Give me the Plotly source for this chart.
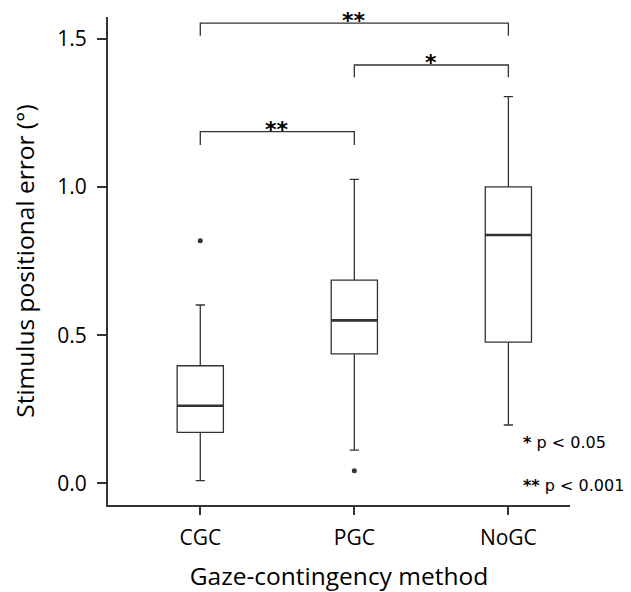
import plotly.graph_objects as go

categories = ["CGC", "PGC", "NoGC"]
q1 = [0.172, 0.437, 0.477]
median = [0.262, 0.550, 0.838]
q3 = [0.397, 0.686, 1.001]
lower = [0.009, 0.112, 0.197]
upper = [0.602, 1.026, 1.305]
outlier_x = [0, 1]
outlier_y = [0.819, 0.043]

# significance brackets: (from idx, to idx, bar level, end level, label)
br_from = [0, 1, 0]
br_to = [1, 2, 2]
br_top = [1.187, 1.412, 1.553]
br_end = [1.142, 1.371, 1.511]
br_label = ["**", "*", "**"]

legend_lines = ["<b>*</b> p < 0.05", "<b>**</b> p < 0.001"]
legend_y = [0.139, -0.006]

C = "#333333"
fig = go.Figure()
for i, c in enumerate(categories):
    fig.add_trace(go.Box(
        x=[i], q1=[q1[i]], median=[median[i]], q3=[q3[i]],
        lowerfence=[lower[i]], upperfence=[upper[i]],
        width=0.3, whiskerwidth=0.2, fillcolor="white",
        line=dict(color=C, width=1.3), boxpoints=False, showlegend=False,
        hoverinfo="skip"))
    fig.add_trace(go.Scatter(
        x=[i - 0.15, i + 0.15], y=[median[i], median[i]], mode="lines",
        line=dict(color=C, width=2.6), showlegend=False, hoverinfo="skip"))

fig.add_trace(go.Scatter(x=outlier_x, y=outlier_y, mode="markers",
                         marker=dict(color=C, size=5), showlegend=False))

for a, b, top, end, lab in zip(br_from, br_to, br_top, br_end, br_label):
    fig.add_trace(go.Scatter(x=[a, a, b, b], y=[end, top, top, end], mode="lines",
                             line=dict(color=C, width=1.3), showlegend=False,
                             hoverinfo="skip"))
    fig.add_annotation(x=(a + b) / 2, y=top, text="<b>" + lab + "</b>",
                       showarrow=False, yanchor="bottom", yshift=-12,
                       font=dict(family="DejaVu Sans", size=22, color="black"))

for t, yv in zip(legend_lines, legend_y):
    fig.add_annotation(x=2.084, y=yv, text=t, showarrow=False,
                       xanchor="left", yanchor="middle",
                       font=dict(family="DejaVu Sans", size=16, color="black"))

fig.update_layout(
    width=623, height=584,
    margin=dict(l=100, r=61, t=9, b=87),
    paper_bgcolor="white", plot_bgcolor="white",
    font=dict(family="Open Sans", color="black"),
    xaxis=dict(range=[-0.599, 2.40], tickvals=[0, 1, 2], ticktext=categories,
               showline=True, linecolor=C, linewidth=2, showgrid=False,
               zeroline=False, ticks="outside", ticklen=8, tickwidth=2,
               tickcolor=C, tickfont=dict(size=21), ticklabelstandoff=5,
               automargin=False,
               title=dict(text="Gaze-contingency method", font=dict(size=24.5),
                          standoff=20)),
    yaxis=dict(range=[-0.073, 1.574], tickvals=[0, 0.5, 1.0, 1.5],
               ticktext=["0.0", "0.5", "1.0", "1.5"],
               showline=True, linecolor=C, linewidth=2, showgrid=False,
               zeroline=False, ticks="outside", ticklen=9, tickwidth=2,
               tickcolor=C, tickfont=dict(size=21), ticklabelstandoff=6,
               automargin=False,
               title=dict(text="Stimulus positional error (°)",
                          font=dict(size=24.5), standoff=23)),
)

fig.write_html("out.html")
